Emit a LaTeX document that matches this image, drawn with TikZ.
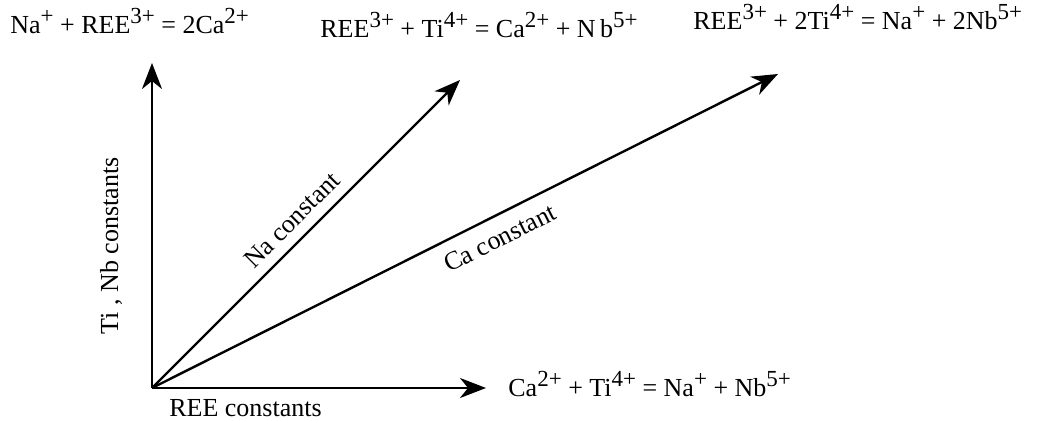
\documentclass[tikz,border=0pt]{standalone}
\usepackage{fontspec}
\setmainfont{Liberation Serif}
\usetikzlibrary{arrows.meta}
\newcommand\sps[1]{\raisebox{0.42em}{\fontsize{11.5}{12}\selectfont #1}}
\begin{document}
\begin{tikzpicture}[x=0.5pt,y=-0.5pt,
  lbl/.style={font=\fontsize{13}{15}\selectfont, inner sep=0pt},
  vec/.style={line width=1.2pt, -{Stealth[length=13pt,width=10pt,inset=4pt]}}]
\useasboundingbox (0,0) rectangle (1045,421);
\coordinate (O) at (152,388);
\coordinate (V) at (152,63);
\coordinate (N) at (460,80);
\coordinate (C) at (778,74);
\coordinate (H) at (486,388);
\node[lbl,anchor=base west] (l1) at (10,34) {Na\sps{+} + REE\sps{3+} = 2Ca\sps{2+}};
\node[lbl,anchor=base west] (l2) at (320,38) {REE\sps{3+} + Ti\sps{4+} = Ca\sps{2+} + N\,b\sps{5+}};
\node[lbl,anchor=base west] (l3) at (693,30) {REE\sps{3+} + 2Ti\sps{4+} = Na\sps{+} + 2Nb\sps{5+}};
\node[lbl,anchor=base west] (l4) at (508,397) {Ca\sps{2+} + Ti\sps{4+} = Na\sps{+} + Nb\sps{5+}};
\node[lbl,rotate=90] (tn) at (111,246) {Ti , Nb constants};
\draw[vec] (O) -- (V);
\draw[vec] (O) -- node[lbl,sloped,above=5pt,pos=0.5] (na) {Na constant} (N);
\draw[vec] (O) -- node[lbl,sloped,below=6pt,pos=0.54] (ca) {Ca constant} (C);
\draw[vec] (O) -- node[lbl,anchor=base,pos=0.28,yshift=-14.5pt] (ree) {REE constants} (H);
\end{tikzpicture}
\end{document}
